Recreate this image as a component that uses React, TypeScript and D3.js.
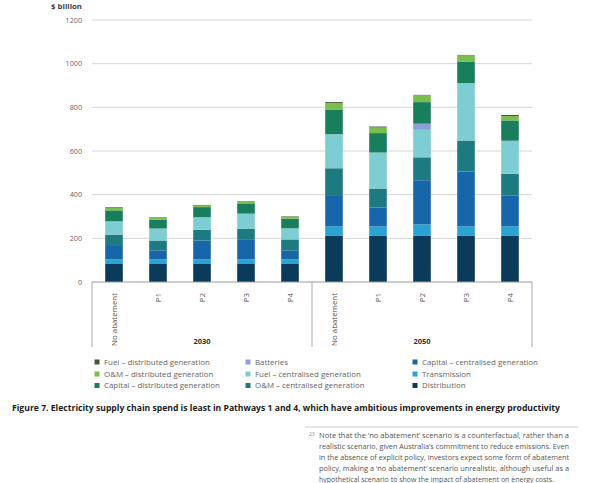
import React from "react";
import * as d3 from "d3";

const categories = ["NA2030", "P1_2030", "P2_2030", "P3_2030", "P4_2030", "NA2050", "P1_2050", "P2_2050", "P3_2050", "P4_2050"];
const categoryLabels = ["No abatement", "P1", "P2", "P3", "P4", "No abatement", "P1", "P2", "P3", "P4"];
const groupLabels = ["2030", "2050"];
const yTicks = [0, 200, 400, 600, 800, 1000, 1200];

const distribution = [85, 85, 85, 85, 85, 211, 211, 211, 211, 211];
const transmission = [19, 19, 19, 19, 19, 44, 44, 53, 44, 44];
const capitalCentral = [61, 41, 86, 89, 41, 143, 86, 202, 251, 142];
const omCentral = [52, 45, 49, 50, 50, 123, 87, 105, 142, 99];
const fuelCentral = [61, 55, 58, 70, 51, 156, 165, 126, 263, 151];
const batteries = [0, 0, 0, 0, 0, 0, 0, 28, 0, 0];
const capitalDist = [50, 41, 46, 47, 44, 111, 89, 99, 97, 93];
const omDist = [11, 9, 8, 8, 9, 32, 26, 31, 30, 20];
const fuelDist = [3, 2, 2, 2, 2, 4, 4, 2, 2, 5];

const seriesNames = [
  "Distribution",
  "Transmission",
  "Capital – centralised generation",
  "O&M – centralised generation",
  "Fuel – centralised generation",
  "Batteries",
  "Capital – distributed generation",
  "O&M – distributed generation",
  "Fuel – distributed generation",
];
const seriesValues = [distribution, transmission, capitalCentral, omCentral, fuelCentral, batteries, capitalDist, omDist, fuelDist];
const seriesColors = ["#0b3b5b", "#2aa3d2", "#1766aa", "#1d7a80", "#7ecdd2", "#8f9ed6", "#197e5b", "#7cbe4e", "#3d5b40"];

const legendColumns = [
  ["Fuel – distributed generation", "O&M – distributed generation", "Capital – distributed generation"],
  ["Batteries", "Fuel – centralised generation", "O&M – centralised generation"],
  ["Capital – centralised generation", "Transmission", "Distribution"],
];

const footnoteLines = [
  "Note that the ‘no abatement’ scenario is a counterfactual, rather than a",
  "realistic scenario, given Australia’s commitment to reduce emissions. Even",
  "in the absence of explicit policy, investors expect some form of abatement",
  "policy, making a ‘no abatement’ scenario unrealistic, although useful as a",
  "hypothetical scenario to show the impact of abatement on energy costs.",
];

const FONT = "'Open Sans', Lato, sans-serif";

export default function App() {
  const W = 590, H = 483;
  const x0 = 92, x1 = 532;
  const y = d3.scaleLinear().domain([0, 1200]).range([282, 20]);
  const x = d3.scaleBand<string>().domain(categories).range([x0, x1]).paddingInner(0.6).paddingOuter(0.3);

  const rows = categories.map((c, i) => {
    const r: any = { cat: c };
    seriesNames.forEach((s, j) => (r[s] = seriesValues[j][i]));
    return r;
  });
  const stacked = d3.stack<any>().keys(seriesNames)(rows);

  const groupX = d3.scaleBand<string>().domain(groupLabels).range([x0, x1]);
  const colX = [97, 248, 415];
  const rowY = [362, 374, 385.5];

  return (
    <svg width={W} height={H} style={{ position: "absolute", left: 0, top: 0, background: "#fff" }} fontFamily={FONT}>
      <text x={82} y={9} textAnchor="end" fontSize={7.8} fontWeight="bold" fill="#444">$ billion</text>
      {yTicks.map((t) => (
        <g key={t}>
          {t > 0 && <line x1={x0} x2={x1} y1={y(t)} y2={y(t)} stroke="#d6d6d6" strokeWidth={1} />}
          <text x={82} y={y(t) + 2.8} textAnchor="end" fontSize={7.2} fill="#666">{t}</text>
        </g>
      ))}
      {stacked.map((s, j) => (
        <g key={s.key} fill={seriesColors[j]}>
          {s.map((d, i) => (
            d[1] - d[0] > 0 ? (
              <rect key={i} x={x(categories[i])} width={x.bandwidth()} y={y(d[1])} height={y(d[0]) - y(d[1])} />
            ) : null
          ))}
        </g>
      ))}
      <line x1={x0} x2={x1} y1={y(0)} y2={y(0)} stroke="#999" strokeWidth={1} />
      {[x0, (x0 + x1) / 2, x1].map((v, i) => (
        <line key={i} x1={v} x2={v} y1={y(0)} y2={347} stroke="#aaa" strokeWidth={1} />
      ))}
      {categories.map((c, i) => {
        const cx = (x(c) as number) + x.bandwidth() / 2;
        return (
          <text key={c} transform={`translate(${cx + 2.5},${293}) rotate(-90)`} textAnchor="end" fontSize={7.9} fill="#555">
            {categoryLabels[i]}
          </text>
        );
      })}
      {groupLabels.map((g) => (
        <text key={g} x={(groupX(g) as number) + groupX.bandwidth() / 2} y={344} textAnchor="middle" fontSize={7.5} fontWeight="bold" fill="#333">{g}</text>
      ))}
      {legendColumns.map((col, ci) =>
        col.map((name, ri) => {
          const j = seriesNames.indexOf(name);
          return (
            <g key={name}>
              <rect x={colX[ci] - 2.5} y={rowY[ri] - 2.5} width={5} height={5} fill={seriesColors[j]} />
              <text x={colX[ci] + 7} y={rowY[ri] + 2.8} fontSize={7.9} fill="#666">{name}</text>
            </g>
          );
        })
      )}
      <text x={12} y={411} fontSize={8.6} fontWeight="bold" fill="#222" textLength={548} lengthAdjust="spacingAndGlyphs">
        Figure 7. Electricity supply chain spend is least in Pathways 1 and 4, which have ambitious improvements in energy productivity
      </text>
      <line x1={305} x2={578} y1={427} y2={427} stroke="#ccc" strokeWidth={1} />
      <text x={309} y={436} fontSize={5} fill="#888">23</text>
      {footnoteLines.map((l, i) => (
        <text key={i} x={319} y={438 + i * 11} fontSize={7.3} fill="#555" textLength={i === 4 ? 235 : 250} lengthAdjust="spacingAndGlyphs">{l}</text>
      ))}
    </svg>
  );
}
